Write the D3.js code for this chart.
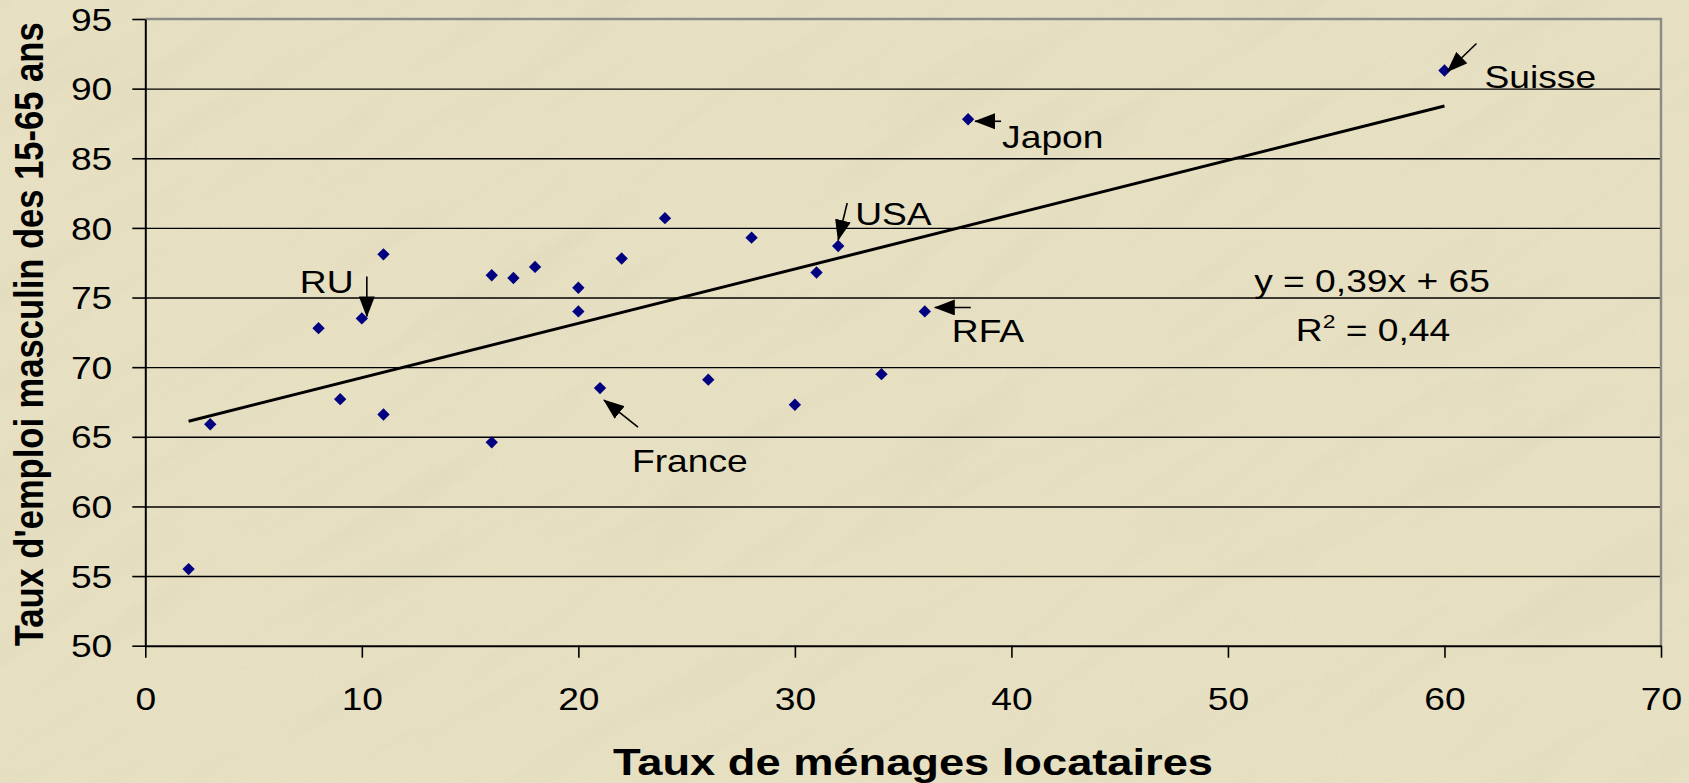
<!DOCTYPE html>
<html>
<head>
<meta charset="utf-8">
<script src="https://cdn.jsdelivr.net/npm/d3@7"></script>
<style>
  html, body { margin: 0; padding: 0; background: #E7E0C2; }
  svg { display: block; }
  text { font-family: "Liberation Sans", Arial, sans-serif; fill: #000; }
</style>
</head>
<body>
<svg id="chart" width="1689" height="783"></svg>
<script>
// ---------------- DATA ----------------
const housingRate = [2, 3, 8, 9, 10, 11, 11, 16, 16, 17, 18, 20, 20, 21, 22, 24, 26, 28, 30, 31, 32, 34, 36, 38, 60];
const employmentRate = [55.5, 65.9, 72.8, 67.7, 73.5, 78.1, 66.6, 64.6, 76.6, 76.4, 77.2, 75.7, 74.0, 68.5, 77.8, 80.7, 69.1, 79.3, 67.3, 76.8, 78.7, 69.5, 74.0, 87.8, 91.3];
const xTickValues = [0, 10, 20, 30, 40, 50, 60, 70];
const yTickValues = [50, 55, 60, 65, 70, 75, 80, 85, 90, 95];
const annotationNames = ["RU", "USA", "RFA", "France", "Japon", "Suisse"];
const annotationPointIndex = [4, 20, 22, 13, 23, 24];
const equationLines = ["y = 0,39x + 65", "R2 = 0,44"];
const xTitle = "Taux de ménages locataires";
const yTitle = "Taux d'emploi masculin des 15-65 ans";

// ---------------- LAYOUT ----------------
const W = 1689, H = 783;
const plot = { left: 145.3, right: 1661, top: 19, bottom: 645.7 };
const SX = 1.2;           // horizontal stretch of the lettering
const FONT = 31;
// pixel offsets from each annotated point: [textDx, textDy, tailDx, tailDy, tipDx, tipDy]
const annotationLayout = {
  "RU":     [-62, -25,  5, -42,  5, -2],
  "USA":    [ 17, -21,  9, -43,  0, -6],
  "RFA":    [ 27,  31, 46,  -4, 10, -4],
  "France": [ 32,  84, 38,  39,  4, 12],
  "Japon":  [ 34,  29, 33,   2,  7,  2],
  "Suisse": [ 40,  17, 32, -27,  3,  1]
};

const svg = d3.select("#chart");
const defs = svg.append("defs");

// paper texture
const f = defs.append("filter").attr("id", "paper").attr("x", 0).attr("y", 0).attr("width", 1).attr("height", 1);
f.append("feTurbulence").attr("type", "fractalNoise").attr("baseFrequency", "0.9").attr("numOctaves", 2).attr("seed", 4).attr("result", "fine");
f.append("feColorMatrix").attr("in", "fine").attr("type", "matrix")
  .attr("values", "0 0 0 0 0.45  0 0 0 0 0.42  0 0 0 0 0.28  0 0 0 -0.9 0.55").attr("result", "fineC");
f.append("feTurbulence").attr("type", "fractalNoise").attr("baseFrequency", "0.004 0.03").attr("numOctaves", 3).attr("seed", 9).attr("result", "streak");
f.append("feColorMatrix").attr("in", "streak").attr("type", "matrix")
  .attr("values", "0 0 0 0 0.55  0 0 0 0 0.52  0 0 0 0 0.38  0 0 0 -1.2 0.62").attr("result", "streakC");
f.append("feMerge").selectAll("feMergeNode").data(["fineC", "streakC"]).join("feMergeNode").attr("in", d => d);

svg.append("rect").attr("width", W).attr("height", H).attr("fill", "#E8E1C3");
svg.append("g").attr("transform", `rotate(-33 ${W/2} ${H/2})`)
  .append("rect").attr("x", -600).attr("y", -700).attr("width", W + 1200).attr("height", H + 1400)
  .attr("filter", "url(#paper)").attr("opacity", 0.24);

// arrow marker
defs.append("marker").attr("id", "arrow").attr("markerUnits", "userSpaceOnUse")
  .attr("viewBox", "0 0 21 16").attr("markerWidth", 21).attr("markerHeight", 16)
  .attr("refX", 20).attr("refY", 8).attr("orient", "auto")
  .append("path").attr("d", "M0,0 L21,8 L0,16 Z").attr("fill", "#000");

// ---------------- SCALES ----------------
const x = d3.scaleLinear().domain([0, 70]).range([plot.left, plot.right]);
const y = d3.scaleLinear().domain([50, 95]).range([plot.bottom, plot.top]);
const pw = plot.right - plot.left;

// gridlines (without the top one, which is the plot border)
svg.append("g").attr("transform", `translate(${plot.left},0)`)
  .call(d3.axisLeft(y).tickValues(yTickValues.filter(v => v > 50 && v < 95)).tickSize(-pw).tickFormat(""))
  .call(g => g.select(".domain").remove())
  .call(g => g.selectAll("line").attr("stroke", "#000").attr("stroke-width", 1.4));

// plot border (top & right) gray
svg.append("path")
  .attr("d", `M${plot.left},${plot.top} L${plot.right},${plot.top} L${plot.right},${plot.bottom}`)
  .attr("fill", "none").attr("stroke", "#8a8a88").attr("stroke-width", 2.4);

// y axis
const yAxis = svg.append("g").attr("transform", `translate(${plot.left},0)`)
  .call(d3.axisLeft(y).tickValues(yTickValues).tickSize(13).tickSizeOuter(0).tickFormat(d3.format("d")));
yAxis.select(".domain").attr("stroke", "#000").attr("stroke-width", 2);
yAxis.selectAll(".tick line").attr("stroke", "#000").attr("stroke-width", 1.6);
yAxis.selectAll(".tick text")
  .attr("x", null).attr("dy", "0.36em").attr("text-anchor", "end")
  .attr("transform", `translate(-33,0) scale(${SX},1)`)
  .style("font-size", FONT + "px").style("font-family", "'Liberation Sans', Arial, sans-serif").attr("fill", "#000");

// x axis
const xAxis = svg.append("g").attr("transform", `translate(0,${plot.bottom})`)
  .call(d3.axisBottom(x).tickValues(xTickValues).tickSize(12).tickSizeOuter(0).tickFormat(d3.format("d")));
xAxis.select(".domain").attr("stroke", "#000").attr("stroke-width", 2);
xAxis.selectAll(".tick line").attr("stroke", "#000").attr("stroke-width", 1.6);
xAxis.selectAll(".tick text")
  .attr("y", null).attr("dy", null).attr("text-anchor", "middle")
  .attr("transform", `translate(0,64) scale(${SX},1)`)
  .style("font-size", FONT + "px").style("font-family", "'Liberation Sans', Arial, sans-serif").attr("fill", "#000");

// axis titles
svg.append("text")
  .attr("x", (613 + 1213) / 2).attr("y", 775)
  .attr("text-anchor", "middle")
  .attr("textLength", 600).attr("lengthAdjust", "spacingAndGlyphs")
  .style("font-size", "36px").style("font-weight", "bold")
  .text(xTitle);

svg.append("g").attr("transform", `translate(43,${(plot.top + plot.bottom) / 2 + 2}) scale(${SX},1) rotate(-90)`)
  .append("text").attr("text-anchor", "middle")
  .attr("textLength", 624).attr("lengthAdjust", "spacingAndGlyphs")
  .style("font-size", "34px").style("font-weight", "bold")
  .text(yTitle);

// ---------------- TREND LINE (least squares) ----------------
const n = housingRate.length;
const mx = d3.mean(housingRate), my = d3.mean(employmentRate);
let sxy = 0, sxx = 0;
for (let i = 0; i < n; i++) { sxy += (housingRate[i] - mx) * (employmentRate[i] - my); sxx += (housingRate[i] - mx) ** 2; }
const slope = sxy / sxx, intercept = my - slope * mx;
const [xMin, xMax] = d3.extent(housingRate);
svg.append("path")
  .datum([xMin, xMax])
  .attr("d", d3.line().x(d => x(d)).y(d => y(intercept + slope * d)))
  .attr("stroke", "#000").attr("stroke-width", 3).attr("fill", "none");

// ---------------- POINTS ----------------
const pts = housingRate.map((v, i) => ({ hx: v, ey: employmentRate[i] }));
const diamond = d3.symbol().type(d3.symbolSquare).size(76);
svg.append("g").selectAll("path").data(pts).join("path")
  .attr("d", diamond)
  .attr("transform", d => `translate(${x(d.hx)},${y(d.ey)}) rotate(45)`)
  .attr("fill", "#000080");

// ---------------- ANNOTATIONS ----------------
const ann = svg.append("g");
annotationNames.forEach((name, k) => {
  const p = pts[annotationPointIndex[k]];
  const px = x(p.hx), py = y(p.ey);
  const L = annotationLayout[name];
  ann.append("line")
    .attr("x1", px + L[2]).attr("y1", py + L[3])
    .attr("x2", px + L[4]).attr("y2", py + L[5])
    .attr("stroke", "#000").attr("stroke-width", 1.6)
    .attr("marker-end", "url(#arrow)");
  ann.append("text")
    .attr("transform", `translate(${px + L[0]},${py + L[1]}) scale(${SX},1)`)
    .style("font-size", FONT + "px")
    .text(name);
});

// ---------------- EQUATION ----------------
const eq = svg.append("g");
eq.append("text").attr("transform", `translate(1372,292) scale(${SX},1)`).attr("text-anchor", "middle")
  .style("font-size", FONT + "px").text(equationLines[0]);
const r2 = eq.append("text").attr("transform", `translate(1373,341) scale(${SX},1)`).attr("text-anchor", "middle")
  .style("font-size", FONT + "px");
r2.append("tspan").text(equationLines[1].slice(0, 1));
r2.append("tspan").attr("dy", -13).style("font-size", "19px").text(equationLines[1].slice(1, 2));
r2.append("tspan").attr("dy", 13).text(equationLines[1].slice(2));
</script>
</body>
</html>
